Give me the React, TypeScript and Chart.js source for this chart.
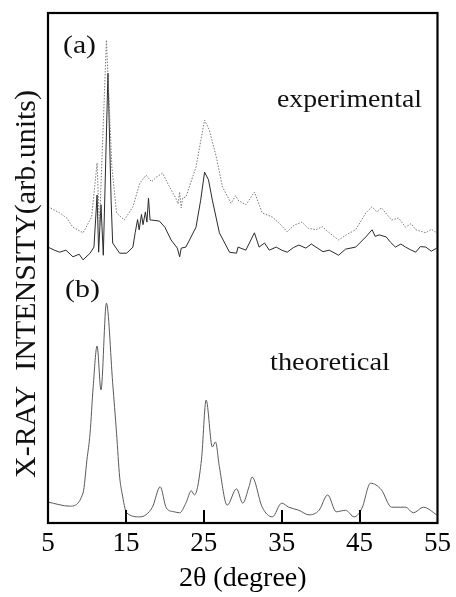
import React, { useEffect, useRef } from "react";
import { Chart, registerables } from "chart.js";

Chart.register(...registerables);

// x tick labels (2θ, degree)
const xTicks = [5, 15, 25, 35, 45, 55];

// (a) experimental, dotted trace
const dottedX = [5.0, 6.5, 7.4, 8.2, 9.5, 10.6, 11.3, 11.6, 12.5, 13.2, 13.8, 14.8, 15.9, 16.8, 17.6, 18.3, 18.9, 19.7, 20.6, 21.4, 21.7, 21.9, 22.1, 22.3, 22.7, 24.0, 24.7, 25.1, 25.7, 26.6, 27.4, 28.5, 29.1, 29.4, 30.4, 31.5, 32.5, 33.8, 34.8, 35.7, 36.6, 37.6, 38.4, 39.4, 40.2, 41.1, 42.3, 43.4, 44.5, 45.8, 46.6, 47.2, 47.8, 49.1, 50.0, 50.9, 51.6, 52.2, 53.5, 54.2, 54.9];
const dottedY = [62.0, 60.8, 59.8, 58.0, 56.9, 60.0, 70.6, 58.0, 94.7, 69.8, 60.8, 59.4, 62.0, 66.7, 68.2, 66.9, 67.8, 68.6, 65.9, 63.7, 62.6, 64.9, 61.8, 63.8, 63.9, 69.8, 75.7, 79.0, 77.1, 71.8, 65.9, 62.7, 64.2, 63.3, 62.4, 64.9, 60.8, 60.0, 58.6, 57.1, 58.4, 59.0, 57.8, 57.5, 58.1, 56.9, 55.5, 56.6, 57.5, 60.8, 62.0, 61.0, 61.8, 59.4, 59.8, 58.0, 58.7, 57.5, 56.9, 57.6, 56.9];

// (a) experimental, solid trace
const solidX = [5.0, 5.8, 6.5, 7.3, 8.2, 9.0, 9.5, 10.4, 10.9, 11.3, 11.5, 11.8, 12.1, 12.7, 13.1, 13.3, 14.2, 15.1, 15.9, 16.2, 16.5, 16.7, 17.0, 17.2, 17.5, 17.7, 17.9, 18.1, 18.3, 19.3, 20.0, 20.8, 21.6, 21.9, 22.1, 22.7, 24.0, 24.6, 25.1, 25.6, 26.1, 27.0, 28.3, 29.2, 29.4, 30.4, 31.5, 32.1, 32.8, 33.4, 34.3, 35.0, 35.7, 36.5, 37.2, 38.1, 38.8, 39.4, 40.3, 41.1, 42.3, 43.2, 44.5, 45.8, 46.6, 47.0, 47.5, 48.4, 49.0, 49.6, 50.3, 50.9, 51.5, 52.2, 52.8, 53.5, 54.2, 54.9];
const solidY = [54.1, 53.5, 53.1, 53.5, 52.2, 52.7, 51.6, 52.9, 54.1, 64.3, 53.1, 62.4, 52.5, 88.2, 63.3, 54.9, 52.9, 52.9, 54.1, 57.0, 59.5, 57.5, 60.5, 58.5, 61.0, 59.0, 63.7, 59.4, 59.4, 59.2, 58.0, 55.5, 53.9, 52.2, 53.9, 54.1, 58.0, 63.3, 68.8, 67.3, 63.3, 56.9, 53.1, 52.9, 54.1, 53.5, 56.9, 54.1, 54.9, 53.5, 54.1, 53.5, 53.1, 54.0, 54.5, 53.9, 54.7, 54.1, 53.2, 53.5, 52.5, 53.7, 54.1, 56.1, 57.5, 56.2, 56.5, 56.1, 55.0, 54.1, 54.7, 54.1, 53.6, 53.1, 54.2, 54.1, 53.3, 53.9];

// (b) theoretical pattern
const theoX = [5.0, 7.8, 9.5, 10.0, 10.4, 10.8, 11.3, 11.8, 12.5, 13.3, 13.8, 14.2, 14.5, 15.1, 16.8, 18.4, 19.4, 20.2, 21.2, 21.9, 22.7, 23.4, 23.8, 24.7, 25.3, 26.1, 26.5, 27.0, 28.0, 29.2, 30.0, 30.8, 31.2, 32.5, 33.8, 35.0, 35.9, 37.2, 38.5, 39.8, 40.9, 42.0, 43.2, 44.3, 45.3, 46.4, 47.8, 49.1, 50.9, 51.9, 53.2, 54.9];
const theoY = [4.1, 3.3, 5.9, 12.4, 17.6, 26.7, 34.7, 26.1, 43.1, 27.5, 17.6, 9.0, 5.9, 2.0, 1.2, 3.1, 7.1, 2.9, 2.2, 2.0, 3.9, 6.3, 5.5, 12.4, 24.1, 14.9, 15.9, 11.0, 3.5, 6.7, 3.9, 7.1, 9.0, 3.1, 1.2, 3.9, 3.1, 2.5, 1.6, 2.5, 5.5, 2.2, 2.5, 1.2, 2.9, 7.8, 6.5, 3.1, 3.1, 2.0, 3.1, 1.6];

const pts = (xs: number[], ys: number[]) => xs.map((x, i) => ({ x, y: ys[i] }));

const SERIF = "Liberation Serif";

function stretchText(ctx: CanvasRenderingContext2D, text: string, x: number, y: number, size: number, width: number) {
  ctx.save();
  ctx.font = `${size}px "${SERIF}"`;
  ctx.fillStyle = "#111";
  ctx.textBaseline = "alphabetic";
  ctx.textAlign = "left";
  const w = ctx.measureText(text).width;
  ctx.translate(x, y);
  ctx.scale(width / w, 1);
  ctx.fillText(text, 0, 0);
  ctx.restore();
}

const framePlugin = {
  id: "frame",
  afterDraw(chart: any) {
    const { ctx, chartArea } = chart;
    const { left, right, top, bottom } = chartArea;
    const xs = chart.scales.x;
    ctx.save();
    ctx.strokeStyle = "#000";
    ctx.lineWidth = 2.2;
    ctx.strokeRect(left, top, right - left, bottom - top);
    ctx.lineWidth = 2;
    xTicks.slice(1, -1).forEach((v) => {
      const px = Math.round(xs.getPixelForValue(v));
      ctx.beginPath();
      ctx.moveTo(px, bottom);
      ctx.lineTo(px, bottom - 13);
      ctx.stroke();
    });
    ctx.restore();

    stretchText(ctx, "(a)", 63, 53, 25, 33);
    stretchText(ctx, "experimental", 277, 107, 26, 145);
    stretchText(ctx, "(b)", 65, 297, 25, 35);
    stretchText(ctx, "theoretical", 270, 370, 25, 120);

    // y-axis title
    ctx.save();
    ctx.font = `30px "${SERIF}"`;
    ctx.fillStyle = "#111";
    ctx.textAlign = "center";
    ctx.textBaseline = "alphabetic";
    ctx.translate(35, 284);
    ctx.rotate(-Math.PI / 2);
    ctx.fillText("X-RAY  INTENSITY(arb.units)", 0, 0);
    ctx.restore();
  },
};

export default function App() {
  const ref = useRef<HTMLCanvasElement | null>(null);
  useEffect(() => {
    document.body.style.margin = "0";
    if (!ref.current) return;
    const chart = new Chart(ref.current, {
      type: "line",
      data: {
        datasets: [
          {
            label: "experimental (dotted)",
            data: pts(dottedX, dottedY),
            borderColor: "#7a7a7a",
            borderWidth: 1,
            borderDash: [1.5, 1.5],
            pointRadius: 0,
            tension: 0,
          },
          {
            label: "experimental",
            data: pts(solidX, solidY),
            borderColor: "#2a2a2a",
            borderWidth: 1,
            pointRadius: 0,
            tension: 0,
          },
          {
            label: "theoretical",
            data: pts(theoX, theoY),
            borderColor: "#5a5a5a",
            borderWidth: 1,
            pointRadius: 0,
            cubicInterpolationMode: "monotone",
          },
        ],
      },
      options: {
        responsive: false,
        animation: false,
        layout: { padding: { top: 13, right: 17, left: 0, bottom: 0 } },
        plugins: { legend: { display: false }, tooltip: { enabled: false } },
        scales: {
          x: {
            type: "linear",
            min: 5,
            max: 55,
            grid: { display: false, drawTicks: false },
            border: { display: false },
            afterBuildTicks: (s: any) => {
              s.ticks = xTicks.map((v) => ({ value: v }));
            },
            afterFit: (s: any) => {
              s.height = 74;
            },
            ticks: {
              padding: 5,
              maxRotation: 0,
              autoSkip: false,
              color: "#000",
              font: { family: SERIF, size: 27 },
            },
            title: {
              display: true,
              text: "2θ (degree)",
              color: "#000",
              font: { family: SERIF, size: 28 },
              padding: { top: 2, bottom: 2 },
            },
          },
          y: {
            min: 0,
            max: 100,
            grid: { display: false },
            border: { display: false },
            ticks: { display: false },
            afterFit: (s: any) => {
              s.width = 48;
            },
          },
        },
      },
      plugins: [framePlugin],
    });
    return () => chart.destroy();
  }, []);
  return (
    <div style={{ width: 456, height: 597 }}>
      <canvas ref={ref} width={456} height={597} />
    </div>
  );
}
